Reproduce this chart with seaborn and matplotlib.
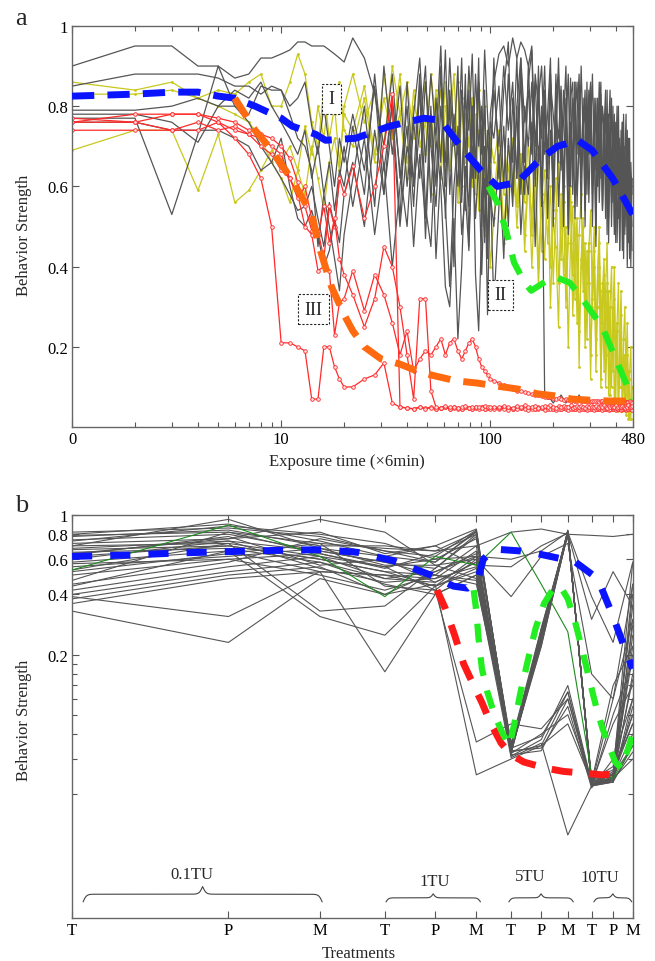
import numpy as np
import pandas as pd
import matplotlib
matplotlib.use("Agg")
import matplotlib.pyplot as plt
import seaborn as sns
from matplotlib.ticker import FixedLocator, FixedFormatter, NullFormatter

sns.set_theme(style="ticks")
plt.rcParams["font.family"] = ["Liberation Serif", "DejaVu Serif"]

# ---------------- panel a data ----------------
# observation grid (exposure time, x 6 min)
T_EARLY = list(range(1, 21))
T_MID = list(range(22, 101, 3))
T_LATE = list(range(104, 481, 6))

gray1 = (
    [0.90, 0.95, 0.95, 0.90, 0.90, 0.87, 0.88, 0.92, 0.92, 0.93, 0.94, 0.96, 0.96, 0.95, 0.95, 0.95, 0.94, 0.93, 0.92, 0.91],
    [0.97, 0.92, 0.83, 0.70, 0.88, 0.62, 0.80, 0.55, 0.85, 0.47, 0.78, 0.60, 0.90, 0.52, 0.82, 0.40, 0.75, 0.58, 0.88, 0.45,
     0.80, 0.65, 0.92, 0.50, 0.84, 0.42, 0.78],
    [0.86, 0.93, 0.95, 0.90, 0.97, 0.92, 0.96, 0.94, 0.90, 0.95, 0.70, 0.85, 0.55, 0.80, 0.62, 0.88,
     0.50, 0.78, 0.66, 0.84, 0.58, 0.80, 0.48, 0.76, 0.64, 0.86, 0.55, 0.74, 0.62, 0.82, 0.50, 0.79,
     0.68, 0.85, 0.58, 0.72, 0.45, 0.80, 0.66, 0.83, 0.55, 0.77, 0.60, 0.84, 0.52, 0.72, 0.64, 0.80,
     0.48, 0.76, 0.58, 0.70, 0.44, 0.74, 0.62, 0.78, 0.50, 0.68, 0.56, 0.72, 0.46, 0.66, 0.58],
)
gray2 = (
    [0.85, 0.88, 0.88, 0.88, 0.87, 0.85, 0.85, 0.83, 0.85, 0.84, 0.80, 0.82, 0.86, 0.75, 0.68, 0.80, 0.70, 0.60, 0.72, 0.66],
    [0.78, 0.64, 0.85, 0.58, 0.76, 0.50, 0.70, 0.62, 0.88, 0.55, 0.45, 0.72, 0.60, 0.35, 0.30, 0.52, 0.22, 0.40, 0.65, 0.55,
     0.80, 0.38, 0.24, 0.50, 0.70, 0.28, 0.62],
    [0.30, 0.55, 0.75, 0.50, 0.82, 0.62, 0.88, 0.58, 0.90, 0.70, 0.86, 0.66, 0.80, 0.08, 0.07, 0.07,
     0.06, 0.07, 0.07, 0.08, 0.07, 0.06, 0.07, 0.07, 0.07, 0.06, 0.07, 0.08, 0.07, 0.07, 0.06, 0.07],
)
gray3 = (
    [0.79, 0.79, 0.80, 0.82, 0.80, 0.80, 0.78, 0.85, 0.84, 0.84, 0.78, 0.72, 0.70, 0.64, 0.45, 0.58, 0.50, 0.42, 0.34, 0.48],
    [0.62, 0.80, 0.55, 0.90, 0.68, 0.85, 0.60, 0.78, 0.92, 0.66, 0.88, 0.72, 0.95, 0.60, 0.84, 0.70, 0.90, 0.56, 0.82, 0.74,
     0.93, 0.62, 0.86, 0.68, 0.80, 0.58, 0.76],
    [0.72, 0.85, 0.60, 0.88, 0.66, 0.92, 0.58, 0.80, 0.70, 0.86, 0.62, 0.90, 0.55, 0.82, 0.68, 0.88,
     0.60, 0.78, 0.72, 0.85, 0.50, 0.80, 0.64, 0.87, 0.58, 0.76, 0.68, 0.84, 0.52, 0.78, 0.62, 0.86,
     0.56, 0.74, 0.66, 0.82, 0.48, 0.76, 0.60, 0.80, 0.54, 0.72, 0.64, 0.78, 0.46, 0.70, 0.58, 0.76,
     0.50, 0.68, 0.60, 0.74, 0.44, 0.66, 0.56, 0.70, 0.48, 0.62, 0.54, 0.66, 0.42, 0.60, 0.50],
)
gray4 = (
    [0.77, 0.77, 0.53, 0.73, 0.90, 0.80, 0.76, 0.70, 0.66, 0.62, 0.58, 0.54, 0.55, 0.60, 0.52, 0.45, 0.56, 0.50, 0.62, 0.70],
    [0.55, 0.72, 0.48, 0.66, 0.40, 0.60, 0.75, 0.45, 0.68, 0.52, 0.80, 0.42, 0.65, 0.55, 0.35, 0.60, 0.72, 0.48, 0.58, 0.44,
     0.70, 0.52, 0.66, 0.38, 0.62, 0.46, 0.58],
    [0.50, 0.68, 0.42, 0.72, 0.55, 0.80, 0.48, 0.65, 0.58, 0.76, 0.45, 0.70, 0.62, 0.84, 0.52, 0.74,
     0.60, 0.88, 0.55, 0.70, 0.64, 0.82, 0.50, 0.76, 0.66, 0.86, 0.58, 0.72, 0.62, 0.80, 0.54, 0.78,
     0.68, 0.84, 0.60, 0.74, 0.64, 0.82, 0.56, 0.70, 0.62, 0.78, 0.52, 0.72, 0.60, 0.76, 0.50, 0.68,
     0.58, 0.72, 0.46, 0.64, 0.56, 0.70, 0.44, 0.62, 0.52, 0.66, 0.40, 0.58, 0.50, 0.60, 0.44],
)
gray5 = (
    [0.76, 0.76, 0.74, 0.74, 0.74, 0.72, 0.70, 0.64, 0.66, 0.72, 0.60, 0.52, 0.50, 0.54, 0.48, 0.40, 0.44, 0.52, 0.46, 0.58],
    [0.66, 0.50, 0.74, 0.58, 0.82, 0.64, 0.50, 0.76, 0.62, 0.86, 0.70, 0.55, 0.80, 0.66, 0.92, 0.72, 0.60, 0.84, 0.68, 0.90,
     0.75, 0.62, 0.86, 0.70, 0.94, 0.78, 0.66],
    [0.84, 0.70, 0.90, 0.74, 0.86, 0.62, 0.92, 0.76, 0.84, 0.68, 0.88, 0.80, 0.72, 0.90, 0.64, 0.86,
     0.78, 0.70, 0.92, 0.66, 0.84, 0.74, 0.88, 0.60, 0.82, 0.76, 0.86, 0.68, 0.90, 0.72, 0.80, 0.64,
     0.84, 0.74, 0.88, 0.66, 0.78, 0.70, 0.86, 0.62, 0.80, 0.74, 0.84, 0.58, 0.78, 0.68, 0.82, 0.56,
     0.76, 0.66, 0.80, 0.52, 0.72, 0.62, 0.76, 0.50, 0.70, 0.58, 0.74, 0.46, 0.66, 0.55, 0.62],
)
gray6 = (
    [0.78, 0.78, 0.76, 0.71, 0.80, 0.84, 0.82, 0.86, 0.80, 0.76, 0.72, 0.68, 0.74, 0.62, 0.70, 0.58, 0.66, 0.54, 0.64, 0.60],
    [0.75, 0.58, 0.88, 0.64, 0.80, 0.52, 0.86, 0.60, 0.74, 0.90, 0.56, 0.82, 0.66, 0.94, 0.58, 0.78, 0.68, 0.92, 0.54, 0.84,
     0.62, 0.88, 0.70, 0.80, 0.46, 0.74, 0.60],
    [0.92, 0.62, 0.84, 0.96, 0.58, 0.80, 0.92, 0.66, 0.86, 0.94, 0.60, 0.82, 0.90, 0.68, 0.78, 0.92,
     0.56, 0.84, 0.88, 0.64, 0.76, 0.90, 0.60, 0.82, 0.86, 0.52, 0.78, 0.88, 0.62, 0.74, 0.84, 0.58,
     0.80, 0.86, 0.50, 0.72, 0.82, 0.60, 0.76, 0.86, 0.54, 0.70, 0.80, 0.48, 0.74, 0.84, 0.56, 0.68,
     0.78, 0.46, 0.70, 0.80, 0.52, 0.64, 0.76, 0.42, 0.66, 0.78, 0.50, 0.60, 0.72, 0.40, 0.62],
)

yellow1 = (
    [0.86, 0.84, 0.86, 0.82, 0.84, 0.83, 0.86, 0.88, 0.80, 0.80, 0.86, 0.93, 0.88, 0.76, 0.70, 0.84, 0.72, 0.80, 0.66, 0.78],
    [0.74, 0.85, 0.68, 0.82, 0.72, 0.88, 0.66, 0.80, 0.76, 0.86, 0.70, 0.84, 0.62, 0.80, 0.74, 0.88, 0.68, 0.82, 0.72, 0.86,
     0.78, 0.64, 0.84, 0.70, 0.80, 0.60, 0.72],
    [0.66, 0.74, 0.58, 0.70, 0.62, 0.55, 0.68, 0.48, 0.64, 0.40, 0.60, 0.35, 0.56, 0.42, 0.62, 0.30,
     0.52, 0.45, 0.25, 0.58, 0.38, 0.50, 0.20, 0.46, 0.55, 0.32, 0.48, 0.15, 0.42, 0.52, 0.28, 0.44,
     0.36, 0.12, 0.40, 0.50, 0.22, 0.38, 0.46, 0.10, 0.34, 0.42, 0.18, 0.36, 0.08, 0.30, 0.40, 0.14,
     0.32, 0.06, 0.26, 0.36, 0.10, 0.28, 0.04, 0.22, 0.30, 0.08, 0.18, 0.02, 0.14, 0.20, 0.05],
)
yellow2 = (
    [0.69, 0.74, 0.74, 0.59, 0.73, 0.56, 0.59, 0.64, 0.69, 0.66, 0.70, 0.64, 0.75, 0.68, 0.80, 0.72, 0.84, 0.78, 0.86, 0.74],
    [0.70, 0.82, 0.66, 0.88, 0.72, 0.78, 0.62, 0.84, 0.70, 0.76, 0.58, 0.82, 0.68, 0.86, 0.64, 0.74, 0.56, 0.80, 0.66, 0.72,
     0.60, 0.78, 0.54, 0.70, 0.62, 0.48, 0.66],
    [0.58, 0.70, 0.50, 0.64, 0.72, 0.56, 0.68, 0.44, 0.62, 0.52, 0.70, 0.40, 0.58, 0.64, 0.46, 0.60,
     0.36, 0.54, 0.66, 0.42, 0.56, 0.30, 0.50, 0.60, 0.38, 0.52, 0.26, 0.48, 0.58, 0.34, 0.46, 0.22,
     0.44, 0.54, 0.30, 0.40, 0.18, 0.38, 0.50, 0.26, 0.36, 0.14, 0.34, 0.46, 0.20, 0.30, 0.10, 0.28,
     0.40, 0.16, 0.24, 0.06, 0.22, 0.34, 0.12, 0.18, 0.04, 0.16, 0.26, 0.08, 0.12, 0.02, 0.10],
)
yellow3 = (
    [0.83, 0.83, 0.84, 0.82, 0.80, 0.78, 0.76, 0.72, 0.66, 0.62, 0.56, 0.64, 0.58, 0.70, 0.62, 0.54, 0.66, 0.72, 0.64, 0.80],
    [0.88, 0.76, 0.84, 0.70, 0.90, 0.78, 0.86, 0.72, 0.82, 0.68, 0.88, 0.76, 0.84, 0.64, 0.80, 0.72, 0.86, 0.60, 0.78, 0.70,
     0.82, 0.58, 0.74, 0.66, 0.48, 0.62, 0.40],
    [0.52, 0.64, 0.46, 0.60, 0.70, 0.50, 0.66, 0.56, 0.72, 0.48, 0.62, 0.68, 0.44, 0.58, 0.66, 0.40,
     0.54, 0.62, 0.36, 0.50, 0.60, 0.32, 0.46, 0.56, 0.28, 0.44, 0.52, 0.24, 0.40, 0.50, 0.20, 0.36,
     0.46, 0.18, 0.32, 0.44, 0.14, 0.30, 0.40, 0.12, 0.26, 0.38, 0.10, 0.22, 0.34, 0.08, 0.20, 0.30,
     0.06, 0.16, 0.26, 0.04, 0.14, 0.22, 0.06, 0.10, 0.18, 0.03, 0.08, 0.14, 0.02, 0.06, 0.10],
)

red1 = (
    [0.76, 0.76, 0.78, 0.78, 0.76, 0.72, 0.68, 0.62, 0.50, 0.21, 0.21, 0.20, 0.19, 0.07, 0.07, 0.20, 0.20, 0.15, 0.12, 0.10],
    [0.10, 0.12, 0.13, 0.16, 0.06, 0.05, 0.048, 0.046, 0.05, 0.047, 0.049, 0.045, 0.048, 0.05, 0.046, 0.049, 0.047, 0.045,
     0.05, 0.048, 0.046, 0.049, 0.047, 0.05, 0.046, 0.048, 0.047],
    [0.048, 0.046, 0.050, 0.047, 0.045, 0.049, 0.047, 0.050, 0.046, 0.048, 0.045, 0.049, 0.047, 0.046, 0.050, 0.048,
     0.045, 0.047, 0.049, 0.046, 0.048, 0.050, 0.045, 0.047, 0.049, 0.046, 0.048, 0.045, 0.050, 0.047, 0.046, 0.049,
     0.047, 0.045, 0.048, 0.050, 0.046, 0.047, 0.049, 0.045, 0.048, 0.046, 0.050, 0.047, 0.045, 0.049, 0.046, 0.048,
     0.047, 0.050, 0.045, 0.048, 0.046, 0.049, 0.047, 0.045, 0.050, 0.046, 0.048, 0.047, 0.049, 0.045, 0.047],
)
red2 = (
    [0.77, 0.76, 0.74, 0.74, 0.76, 0.74, 0.73, 0.72, 0.70, 0.68, 0.62, 0.58, 0.50, 0.48, 0.39, 0.40, 0.39, 0.23, 0.31, 0.32],
    [0.39, 0.29, 0.38, 0.33, 0.26, 0.18, 0.24, 0.14, 0.17, 0.19, 0.18, 0.20, 0.22, 0.18, 0.21, 0.22, 0.19, 0.17, 0.19, 0.21,
     0.22, 0.20, 0.17, 0.15, 0.14, 0.13, 0.12],
    [0.115, 0.11, 0.105, 0.10, 0.095, 0.09, 0.09, 0.088, 0.085, 0.082, 0.08, 0.08, 0.078, 0.076, 0.075, 0.074,
     0.072, 0.07, 0.072, 0.07, 0.068, 0.07, 0.068, 0.066, 0.068, 0.066, 0.065, 0.067, 0.065, 0.064, 0.066, 0.064,
     0.065, 0.063, 0.065, 0.064, 0.066, 0.064, 0.063, 0.065, 0.064, 0.062, 0.064, 0.063, 0.065, 0.063, 0.062, 0.064,
     0.063, 0.062, 0.064, 0.063, 0.061, 0.063, 0.062, 0.064, 0.062, 0.061, 0.063, 0.062, 0.064, 0.062, 0.061],
)
red3 = (
    [0.76, 0.78, 0.78, 0.78, 0.77, 0.76, 0.74, 0.73, 0.72, 0.70, 0.67, 0.61, 0.55, 0.49, 0.49, 0.42, 0.55, 0.50, 0.62, 0.58],
    [0.65, 0.52, 0.60, 0.70, 0.83, 0.05, 0.047, 0.045, 0.049, 0.046, 0.048, 0.044, 0.047, 0.049, 0.045, 0.048, 0.046, 0.044,
     0.049, 0.047, 0.045, 0.048, 0.046, 0.049, 0.044, 0.047, 0.046],
    [0.044, 0.047, 0.045, 0.043, 0.046, 0.044, 0.047, 0.045, 0.043, 0.046, 0.044, 0.045, 0.047, 0.043, 0.045, 0.046,
     0.044, 0.043, 0.046, 0.045, 0.047, 0.044, 0.043, 0.045, 0.046, 0.044, 0.047, 0.043, 0.045, 0.044, 0.046, 0.043,
     0.045, 0.047, 0.044, 0.043, 0.046, 0.045, 0.044, 0.047, 0.043, 0.045, 0.046, 0.044, 0.043, 0.045, 0.047, 0.044,
     0.046, 0.043, 0.045, 0.044, 0.047, 0.043, 0.046, 0.045, 0.044, 0.043, 0.046, 0.045, 0.044, 0.046, 0.043],
)
red4 = (
    [0.74, 0.74, 0.74, 0.76, 0.74, 0.75, 0.73, 0.70, 0.68, 0.64, 0.62, 0.57, 0.60, 0.52, 0.48, 0.55, 0.46, 0.52, 0.42, 0.38],
    [0.33, 0.25, 0.32, 0.45, 0.40, 0.30, 0.18, 0.07, 0.32, 0.32, 0.09, 0.05, 0.048, 0.052, 0.049, 0.051, 0.047, 0.05,
     0.052, 0.048, 0.051, 0.049, 0.05, 0.047, 0.052, 0.049, 0.05],
    [0.051, 0.049, 0.053, 0.050, 0.048, 0.052, 0.050, 0.054, 0.049, 0.051, 0.053, 0.048, 0.050, 0.052, 0.049, 0.054,
     0.051, 0.048, 0.052, 0.050, 0.053, 0.049, 0.051, 0.054, 0.048, 0.050, 0.052, 0.049, 0.053, 0.051, 0.048, 0.052,
     0.050, 0.054, 0.049, 0.051, 0.053, 0.048, 0.050, 0.052, 0.049, 0.054, 0.051, 0.048, 0.052, 0.050, 0.053, 0.049,
     0.051, 0.054, 0.048, 0.050, 0.052, 0.049, 0.053, 0.051, 0.048, 0.052, 0.050, 0.054, 0.049, 0.051, 0.053],
)

# fitted trends (I, II, III)
fit1_t = [1, 2, 3, 4, 5, 6, 7.5, 10, 11.3, 14.6, 16.3, 22.7, 33, 48, 58, 72, 90, 108, 135, 175, 210, 262, 307, 385, 480]
fit1_v = [0.825, 0.83, 0.835, 0.835, 0.825, 0.82, 0.80, 0.77, 0.75, 0.73, 0.715, 0.72, 0.75, 0.77, 0.765, 0.70,
          0.64, 0.60, 0.61, 0.67, 0.70, 0.715, 0.69, 0.62, 0.53]
fit2_t = [98, 108, 119, 123, 130, 146, 157, 180, 203, 240, 275, 343, 398, 480]
fit2_v = [0.60, 0.56, 0.49, 0.46, 0.41, 0.36, 0.34, 0.36, 0.375, 0.36, 0.32, 0.25, 0.17, 0.07]
fit3_t = [6, 7.5, 8.7, 10.5, 12.2, 14, 15.2, 17.4, 20, 22, 25, 30, 37, 46, 55, 69, 86, 108, 135, 168, 203, 245,
          300, 368, 480]
fit3_v = [0.82, 0.74, 0.70, 0.64, 0.585, 0.53, 0.45, 0.35, 0.28, 0.24, 0.20, 0.17, 0.157, 0.137, 0.127, 0.115,
          0.11, 0.102, 0.095, 0.083, 0.078, 0.07, 0.067, 0.065, 0.065]

# ---------------- panel b data ----------------
b_pos = list(range(1, 13))
b_ticklabels = ["T", "P", "M"] * 4
b_groups = ["0.1TU", "1TU", "5TU", "10TU"]
b_gray = [
    [0.82, 0.86, 0.78, 0.66, 0.62, 0.84, 0.066, 0.25, 0.82, 0.045, 0.046, 0.30],
    [0.80, 0.90, 0.74, 0.62, 0.58, 0.83, 0.068, 0.24, 0.83, 0.044, 0.048, 0.22],
    [0.78, 0.84, 0.70, 0.70, 0.66, 0.82, 0.065, 0.26, 0.81, 0.046, 0.050, 0.15],
    [0.75, 0.80, 0.66, 0.58, 0.54, 0.80, 0.070, 0.23, 0.82, 0.045, 0.047, 0.45],
    [0.72, 0.76, 0.82, 0.64, 0.70, 0.85, 0.067, 0.25, 0.84, 0.044, 0.052, 0.10],
    [0.70, 0.72, 0.62, 0.55, 0.60, 0.76, 0.072, 0.27, 0.80, 0.047, 0.055, 0.35],
    [0.67, 0.70, 0.60, 0.52, 0.50, 0.70, 0.064, 0.24, 0.83, 0.045, 0.049, 0.08],
    [0.65, 0.68, 0.58, 0.48, 0.52, 0.64, 0.066, 0.22, 0.82, 0.046, 0.046, 0.25],
    [0.63, 0.78, 0.56, 0.60, 0.46, 0.58, 0.069, 0.26, 0.81, 0.044, 0.051, 0.58],
    [0.60, 0.74, 0.54, 0.46, 0.48, 0.55, 0.071, 0.25, 0.82, 0.045, 0.047, 0.12],
    [0.58, 0.66, 0.52, 0.50, 0.44, 0.52, 0.065, 0.23, 0.80, 0.046, 0.050, 0.20],
    [0.55, 0.62, 0.68, 0.56, 0.56, 0.48, 0.068, 0.24, 0.83, 0.044, 0.046, 0.07],
    [0.52, 0.64, 0.72, 0.44, 0.42, 0.60, 0.066, 0.27, 0.82, 0.045, 0.048, 0.40],
    [0.50, 0.60, 0.50, 0.42, 0.50, 0.45, 0.070, 0.22, 0.81, 0.047, 0.053, 0.09],
    [0.47, 0.82, 0.64, 0.54, 0.64, 0.80, 0.067, 0.25, 0.82, 0.045, 0.047, 0.16],
    [0.45, 0.58, 0.76, 0.66, 0.58, 0.82, 0.064, 0.26, 0.83, 0.044, 0.049, 0.28],
    [0.42, 0.55, 0.62, 0.48, 0.46, 0.58, 0.063, 0.066, 0.12, 0.044, 0.10, 0.18],
    [0.40, 0.52, 0.58, 0.45, 0.40, 0.50, 0.065, 0.070, 0.13, 0.045, 0.12, 0.30],
    [0.38, 0.50, 0.55, 0.40, 0.52, 0.62, 0.062, 0.075, 0.14, 0.046, 0.14, 0.22],
    [0.36, 0.48, 0.52, 0.50, 0.48, 0.66, 0.066, 0.068, 0.11, 0.043, 0.06, 0.12],
    [0.62, 0.70, 0.60, 0.52, 0.44, 0.54, 0.064, 0.080, 0.10, 0.047, 0.05, 0.09],
    [0.68, 0.74, 0.66, 0.58, 0.50, 0.47, 0.061, 0.072, 0.025, 0.044, 0.047, 0.065],
    [0.57, 0.60, 0.64, 0.55, 0.42, 0.073, 0.09, 0.085, 0.12, 0.046, 0.05, 0.07],
    [0.79, 0.82, 0.72, 0.68, 0.66, 0.70, 0.82, 0.85, 0.80, 0.79, 0.78, 0.80],
    [0.74, 0.88, 0.80, 0.72, 0.60, 0.62, 0.60, 0.66, 0.82, 0.39, 0.23, 0.58],
    [0.70, 0.95, 0.68, 0.62, 0.70, 0.56, 0.55, 0.70, 0.81, 0.30, 0.52, 0.35],
    [0.64, 0.76, 0.95, 0.82, 0.56, 0.60, 0.39, 0.62, 0.72, 0.16, 0.12, 0.45],
    [0.33, 0.23, 0.48, 0.40, 0.45, 0.05, 0.06, 0.07, 0.09, 0.046, 0.05, 0.10],
    [0.39, 0.31, 0.52, 0.164, 0.40, 0.50, 0.065, 0.24, 0.80, 0.045, 0.048, 0.06],
    [0.44, 0.66, 0.31, 0.25, 0.44, 0.62, 0.068, 0.078, 0.13, 0.045, 0.09, 0.14],
    [0.53, 0.72, 0.33, 0.35, 0.54, 0.78, 0.066, 0.26, 0.82, 0.044, 0.046, 0.11],
]
b_green_thin = [0.53, 0.89, 0.62, 0.39, 0.62, 0.56, 0.82, 0.45, 0.26, 0.05, 0.048, 0.07]

fitb_blue_x = [1, 1.3, 1.6, 2.0, 2.5, 3.04, 3.54, 4.15, 4.9, 5.42, 5.77, 6.03, 6.19, 6.48, 7.3, 7.86, 8.83, 9.23,
               10.27, 11.0, 11.7, 12.0]
fitb_blue_v = [0.62, 0.63, 0.645, 0.655, 0.665, 0.67, 0.65, 0.59, 0.50, 0.44, 0.43, 0.47, 0.60, 0.675, 0.66, 0.64,
               0.60, 0.59, 0.48, 0.31, 0.20, 0.17]
fitb_red_x = [5.04, 5.23, 5.45, 5.67, 5.93, 6.15, 6.4, 6.7, 7.0, 7.4, 8.15, 8.83, 9.65, 10.5, 11.5]
fitb_red_v = [0.42, 0.34, 0.25, 0.18, 0.14, 0.115, 0.09, 0.072, 0.063, 0.058, 0.054, 0.052, 0.051, 0.050, 0.051]
fitb_green_x = [5.93, 6.0, 6.06, 6.15, 6.3, 6.5, 6.75, 6.95, 7.1, 7.3, 7.55, 7.8, 8.1, 8.4, 8.7, 9.0, 9.3, 9.6,
                9.9, 10.2, 10.5, 10.8, 11.1, 11.4, 11.7, 12.0]
fitb_green_v = [0.42, 0.33, 0.24, 0.17, 0.13, 0.10, 0.08, 0.07, 0.09, 0.13, 0.19, 0.27, 0.36, 0.42, 0.44, 0.38,
                0.29, 0.21, 0.15, 0.11, 0.085, 0.07, 0.058, 0.054, 0.065, 0.08]


def stitch(name, kind, parts):
    rows = []
    for grid, vals in zip((T_EARLY, T_MID, T_LATE), parts):
        n = min(len(grid), len(vals))
        rows += [(name, kind, t, v) for t, v in zip(grid[:n], vals[:n])]
    return rows


rows = []
for i, s in enumerate([gray1, gray2, gray3, gray4, gray5, gray6]):
    rows += stitch(f"g{i}", "gray", s)
for i, s in enumerate([yellow1, yellow2, yellow3]):
    rows += stitch(f"y{i}", "yellow", s)
for i, s in enumerate([red1, red2, red3, red4]):
    rows += stitch(f"r{i}", "red", s)
df_a = pd.DataFrame(rows, columns=["line", "kind", "t", "value"])

df_b = pd.DataFrame(
    [(i, p, v) for i, vals in enumerate(b_gray) for p, v in zip(b_pos, vals)],
    columns=["line", "pos", "value"],
)

GRAY = "#555555"
YELLOW = "#c8c81e"
RED = "#ff2a2a"
BLUE = "#0a14ff"
ORANGE = "#ff6a10"
GREEN = "#22ee22"

fig = plt.figure(figsize=(6.55, 9.62), dpi=100)
ax_a = fig.add_axes([0.110, 0.555, 0.856, 0.417])
ax_b = fig.add_axes([0.110, 0.0447, 0.856, 0.419])


def style_axes(ax):
    for sp in ax.spines.values():
        sp.set_color("#666666")
        sp.set_linewidth(1.0)
    ax.tick_params(which="both", direction="in", top=True, right=True,
                   color="#555555", labelsize=12, labelcolor="black", pad=3)
    ax.tick_params(which="major", length=5, width=0.8)
    ax.tick_params(which="minor", length=3.5, width=0.8)


# ---------------- panel a ----------------
ax_a.set_xscale("log")
sns.lineplot(data=df_a[df_a.kind == "yellow"], x="t", y="value", units="line", estimator=None,
             color=YELLOW, lw=0.9, marker=".", ms=2.5, mec=YELLOW, ax=ax_a, legend=False)
sns.lineplot(data=df_a[df_a.kind == "gray"], x="t", y="value", units="line", estimator=None,
             color=GRAY, lw=0.9, ax=ax_a, legend=False)
sns.lineplot(data=df_a[df_a.kind == "red"], x="t", y="value", units="line", estimator=None,
             color=RED, lw=0.9, marker="o", ms=2.6, mfc="#ffdede", mec=RED, mew=0.6, ax=ax_a, legend=False)

dash_kw = dict(lw=5, dashes=(3.2, 1.9), dash_capstyle="butt", zorder=6)
ax_a.plot(fit1_t, fit1_v, color=BLUE, **dash_kw)
ax_a.plot(fit3_t, fit3_v, color=ORANGE, **dash_kw)
ax_a.plot(fit2_t, fit2_v, color=GREEN, lw=4.5, dashes=(3.4, 2.4), dash_capstyle="butt", zorder=6)

box = dict(boxstyle="square,pad=0.35", fc="white", ec="#222222", lw=0.8, ls=(0, (2, 1.5)))
ax_a.text(17.4, 0.818, "I", ha="center", va="center", fontsize=13, bbox=box, zorder=7)
ax_a.text(112, 0.33, "II", ha="center", va="center", fontsize=13, bbox=box, zorder=7)
ax_a.text(14.3, 0.294, "III", ha="center", va="center", fontsize=13, bbox=box, zorder=7)

ax_a.set_xlim(1, 480)
ax_a.set_ylim(0, 1)
ax_a.xaxis.set_major_locator(FixedLocator([1, 10, 100, 480]))
ax_a.xaxis.set_major_formatter(FixedFormatter(["0", "10", "100", "480"]))
ax_a.xaxis.set_minor_locator(FixedLocator([2, 3, 4, 5, 6, 7, 8, 9, 20, 30, 40, 50, 60, 70, 80, 90, 200, 300, 400]))
ax_a.xaxis.set_minor_formatter(NullFormatter())
ax_a.yaxis.set_major_locator(FixedLocator([0.2, 0.4, 0.6, 0.8, 1.0]))
ax_a.yaxis.set_major_formatter(FixedFormatter(["0.2", "0.4", "0.6", "0.8", "1"]))
ax_a.set_xlabel("")
ax_a.set_ylabel("")
style_axes(ax_a)

# ---------------- panel b ----------------
ax_b.set_xscale("log")
ax_b.set_yscale("log")
sns.lineplot(data=df_b, x="pos", y="value", units="line", estimator=None,
             color=GRAY, lw=0.8, ax=ax_b, legend=False)
ax_b.plot(b_pos, b_green_thin, color="#1f8a1f", lw=0.8, zorder=3)
ax_b.plot(fitb_blue_x, fitb_blue_v, color=BLUE, lw=5, dashes=(2.9, 2.6), dash_capstyle="butt", zorder=6)
ax_b.plot(fitb_red_x, fitb_red_v, color="#ff1a1a", lw=5, dashes=(3.0, 2.4), dash_capstyle="butt", zorder=6)
ax_b.plot(fitb_green_x, fitb_green_v, color=GREEN, lw=4.5, dashes=(3.0, 2.4), dash_capstyle="butt", zorder=6)

ax_b.set_xlim(1, 12)
ax_b.set_ylim(0.0096, 1)
ax_b.xaxis.set_major_locator(FixedLocator(b_pos))
ax_b.xaxis.set_major_formatter(FixedFormatter(b_ticklabels))
ax_b.xaxis.set_minor_locator(FixedLocator([]))
ax_b.yaxis.set_major_locator(FixedLocator([0.2, 0.4, 0.6, 0.8, 1.0]))
ax_b.yaxis.set_major_formatter(FixedFormatter(["0.2", "0.4", "0.6", "0.8", "1"]))
ax_b.yaxis.set_minor_locator(FixedLocator([0.04, 0.06, 0.08, 0.1, 0.12, 0.14, 0.16, 0.18]))
ax_b.yaxis.set_minor_formatter(NullFormatter())
ax_b.set_xlabel("")
ax_b.set_ylabel("")
style_axes(ax_b)


def brace(ax, x0, x1, y0, h, beta=330.0):
    lo, hi = np.log10(ax.get_xlim())
    u0 = (np.log10(x0) - lo) / (hi - lo)
    u1 = (np.log10(x1) - lo) / (hi - lo)
    u = np.linspace(u0, u1, 301)
    half = u[:151]
    s = 1 / (1 + np.exp(-beta * (half - half[0]))) + 1 / (1 + np.exp(-beta * (half - half[-1])))
    s = np.concatenate([s, s[-2::-1]])
    ax.plot(u, y0 + (s - 0.5) * h, transform=ax.transAxes, color="#444444", lw=0.8, clip_on=False)


brace_spans = [(1.05, 3.03), (4.02, 6.11), (6.93, 9.22), (10.1, 11.95)]
brace_h = [0.038, 0.02, 0.02, 0.02]
label_xy = [(0.214, 0.109), (0.647, 0.092), (0.818, 0.104), (0.941, 0.102)]
for (x0, x1), h, (lx, ly), name in zip(brace_spans, brace_h, label_xy, b_groups):
    brace(ax_b, x0, x1, 0.04, h, beta=330.0 if h > 0.03 else 420.0)
    ax_b.text(lx, ly, name, transform=ax_b.transAxes, ha="center", va="center", fontsize=12)

# ---------------- labels ----------------
fig.text(0.023, 1 - 25 / 962, "a", fontsize=19, va="baseline")
fig.text(0.023, 1 - 512 / 962, "b", fontsize=19, va="baseline")
fig.text(24 / 655, 1 - 235 / 962, "Behavior Strength", rotation=90, ha="center", va="center", fontsize=12)
fig.text(24 / 655, 1 - 720 / 962, "Behavior Strength", rotation=90, ha="center", va="center", fontsize=12)
fig.text(347 / 655, 1 - 462 / 962, "Exposure time (\u00d76min)", ha="center", va="center", fontsize=12)
fig.text(359 / 655, 0.004, "Treatments", ha="center", va="baseline", fontsize=12)

fig.savefig("out.png", dpi=100)
